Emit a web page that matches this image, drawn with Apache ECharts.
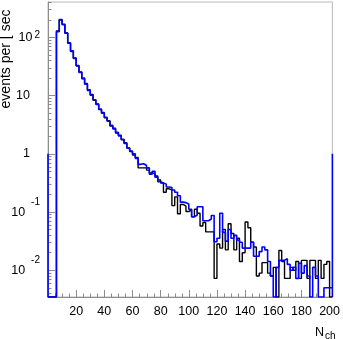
<!DOCTYPE html>
<html>
<head>
<meta charset="utf-8">
<script src="https://cdn.jsdelivr.net/npm/echarts@6/dist/echarts.min.js"></script>
<style>
html, body { margin: 0; padding: 0; background: #fff; }
#chart { width: 343px; height: 339px; }
</style>
</head>
<body>
<div id="chart"></div>
<script>
// histogram bins: 2 units of N_ch wide, first bin starts at 6
const binStart = 6;
const binWidth = 2;

// events per sec, one value per bin (0 = empty bin)
const blueRate = [
    126, 204, 166, 120, 79.4, 58.9, 43.7, 33.1, 25.1, 20.0,
    15.8, 12.6, 10.2, 8.51, 7.08, 5.89, 5.01, 4.27, 3.63, 3.09,
    2.69, 2.34, 2.04, 1.78, 1.51, 1.26, 1.12, 1.00, 0.832, 0.661,
    0.676, 0.631, 0.575, 0.447, 0.501, 0.398, 0.331, 0.316, 0.302, 0.269,
    0.263, 0.240, 0.219, 0.191, 0.148, 0.145, 0.138, 0.112, 0.0832, 0.0891,
    0.123, 0.123, 0.0708, 0.0708, 0.0759, 0.0871, 0.0309, 0.0355, 0.0955, 0.0447,
    0.0316, 0.0501, 0.0355, 0.0398, 0.0331, 0.0302, 0.0240, 0.0240, 0.0240, 0.0302,
    0.0174, 0.0174, 0.0209, 0.0251, 0.0224, 0.0141, 0.00794, 0, 0.0112, 0.0148,
    0.0148, 0.0158, 0.0126, 0.0100, 0.0112, 0.00724, 0.0132, 0.00891, 0.0120, 0.00794,
    0, 0.0112, 0.00794, 0, 0, 0.00501, 0.00501, 0.00501
];
const blackRate = [
    130, 200, 170, 118, 81.0, 57.5, 44.5, 32.4, 25.7, 19.5,
    16.2, 12.3, 10.5, 8.32, 7.24, 5.75, 5.13, 4.17, 3.72, 3.02,
    2.75, 2.29, 2.09, 1.74, 1.55, 1.26, 1.10, 0.955, 0.871, 0.575,
    0.575, 0.575, 0.525, 0.468, 0.457, 0.417, 0.355, 0.316, 0.219, 0.251,
    0.240, 0.129, 0.182, 0.0933, 0.135, 0.126, 0.102, 0.110, 0.0832, 0.112,
    0.0955, 0.0575, 0.0661, 0.0457, 0.0457, 0.0457, 0.00724, 0.0282, 0.0240, 0.0501,
    0.0224, 0.0631, 0.0427, 0.0224, 0.0355, 0.0141, 0.0200, 0.0676, 0.0537, 0.0302,
    0.0251, 0.00794, 0.00891, 0.0135, 0.0135, 0.00891, 0.00794, 0.0112, 0, 0.0219,
    0.0141, 0.00724, 0.00724, 0.0112, 0.0100, 0.0141, 0.00724, 0.0148, 0.0148, 0.00724,
    0.0148, 0.0148, 0.00724, 0.0148, 0.00724, 0.0126, 0.0141, 0
];

// under/overflow, drawn as lines on the frame edges
const blueUnderflow = 1;
const blueOverflow = 1;
const blackUnderflow = 0;
const blackOverflow = 0;

const xTickLabels = [20, 40, 60, 80, 100, 120, 140, 160, 180, 200];
const yTickExponents = [-2, -1, 0, 1, 2];

const xMin = 0, xMax = 202;
const yMin = -2.46, yMax = 2.61;   // log10(events per sec)
const font = 'Liberation Sans, Arial, sans-serif';

function lg(v) {
    return v > 0 ? Math.log10(v) : yMin;
}

function stepPath(rates, under, over) {
    const pts = [[xMin, lg(under)], [xMin, yMin], [binStart, yMin]];
    rates.forEach((v, i) => {
        const lo = binStart + i * binWidth;
        pts.push([lo, lg(v)], [lo + binWidth, lg(v)]);
    });
    const end = binStart + rates.length * binWidth;
    pts.push([end, yMin], [end, lg(over)]);
    return pts;
}

const xMinor = [];
for (let v = 5; v < 200; v += 5) if (v % 20 !== 0) xMinor.push(v);
const yMinor = [];
for (let e = -3; e <= 2; e++) {
    for (let k = 2; k <= 9; k++) {
        const t = e + Math.log10(k);
        if (t > yMin && t < yMax) yMinor.push(t);
    }
}

const axisGray = '#8c8c8c';
const gridBox = { left: 48, right: 10, top: 2, bottom: 42 };

const chart = echarts.init(document.getElementById('chart'));

const option = {
    animation: false,
    backgroundColor: '#fff',
    grid: [
        Object.assign({ show: true, borderColor: '#b8b8b8', borderWidth: 1 }, gridBox),
        Object.assign({ show: false }, gridBox)
    ],
    xAxis: [{
        type: 'value', gridIndex: 0, min: xMin, max: xMax,
        axisLine: { show: true, onZero: false, lineStyle: { color: axisGray } },
        axisTick: { show: true, inside: true, length: 7, customValues: xTickLabels, lineStyle: { color: axisGray } },
        axisLabel: { customValues: xTickLabels, color: '#000', fontSize: 12.5, fontFamily: font, margin: 8 },
        splitLine: { show: false }
    }, {
        type: 'value', gridIndex: 1, min: xMin, max: xMax,
        axisLine: { show: false, onZero: false },
        axisTick: { show: true, inside: true, length: 3.5, customValues: xMinor, lineStyle: { color: axisGray } },
        axisLabel: { show: false },
        splitLine: { show: false }
    }],
    yAxis: [{
        type: 'value', gridIndex: 0, min: yMin, max: yMax,
        axisLine: { show: true, onZero: false, lineStyle: { color: axisGray } },
        axisTick: { show: true, inside: true, length: 7, customValues: yTickExponents, lineStyle: { color: axisGray } },
        axisLabel: {
            customValues: yTickExponents,
            margin: 8,
            formatter: function (v) {
                const e = Math.round(v);
                if (e === 0) return '{m|1}{gap|}';
                if (e === 1) return '{m|10}{gap|}';
                if (e > 1) return '{m|10}{p|' + e + '}';
                return '{m|10}{n|' + e + '}';
            },
            rich: {
                m: { fontSize: 12.5, color: '#000', fontFamily: font },
                gap: { width: 10 },
                p: { fontSize: 10, color: '#000', fontFamily: font, padding: [0, 0, 4, 2] },
                n: { fontSize: 10, color: '#000', fontFamily: font, padding: [0, 0, 20, 6] }
            }
        },
        splitLine: { show: false }
    }, {
        type: 'value', gridIndex: 1, min: yMin, max: yMax,
        axisLine: { show: false, onZero: false },
        axisTick: { show: true, inside: true, length: 3.5, customValues: yMinor, lineStyle: { color: axisGray } },
        axisLabel: { show: false },
        splitLine: { show: false }
    }],
    graphic: [{
        type: 'text', x: 6, y: 59, rotation: Math.PI / 2,
        style: { text: 'events per [ sec', fontSize: 14, fontFamily: font, fill: '#000', align: 'center', verticalAlign: 'middle' }
    }, {
        type: 'text', x: 315, y: 325,
        style: {
            text: '{n|N}{s|ch}',
            rich: {
                n: { fontSize: 12.5, fontFamily: font, fill: '#000' },
                s: { fontSize: 10, fontFamily: font, fill: '#000', padding: [6, 0, 0, 1] }
            }
        }
    }],
    series: [{
        name: 'black', type: 'line', xAxisIndex: 0, yAxisIndex: 0,
        data: stepPath(blackRate, blackUnderflow, blackOverflow),
        showSymbol: false, symbol: 'none', clip: true,
        lineStyle: { color: '#000', width: 1.4 }
    }, {
        name: 'blue', type: 'line', xAxisIndex: 0, yAxisIndex: 0,
        data: stepPath(blueRate, blueUnderflow, blueOverflow),
        showSymbol: false, symbol: 'none', clip: true,
        lineStyle: { color: '#0000ff', width: 1.6 }
    }]
};

chart.setOption(option);
</script>
</body>
</html>
